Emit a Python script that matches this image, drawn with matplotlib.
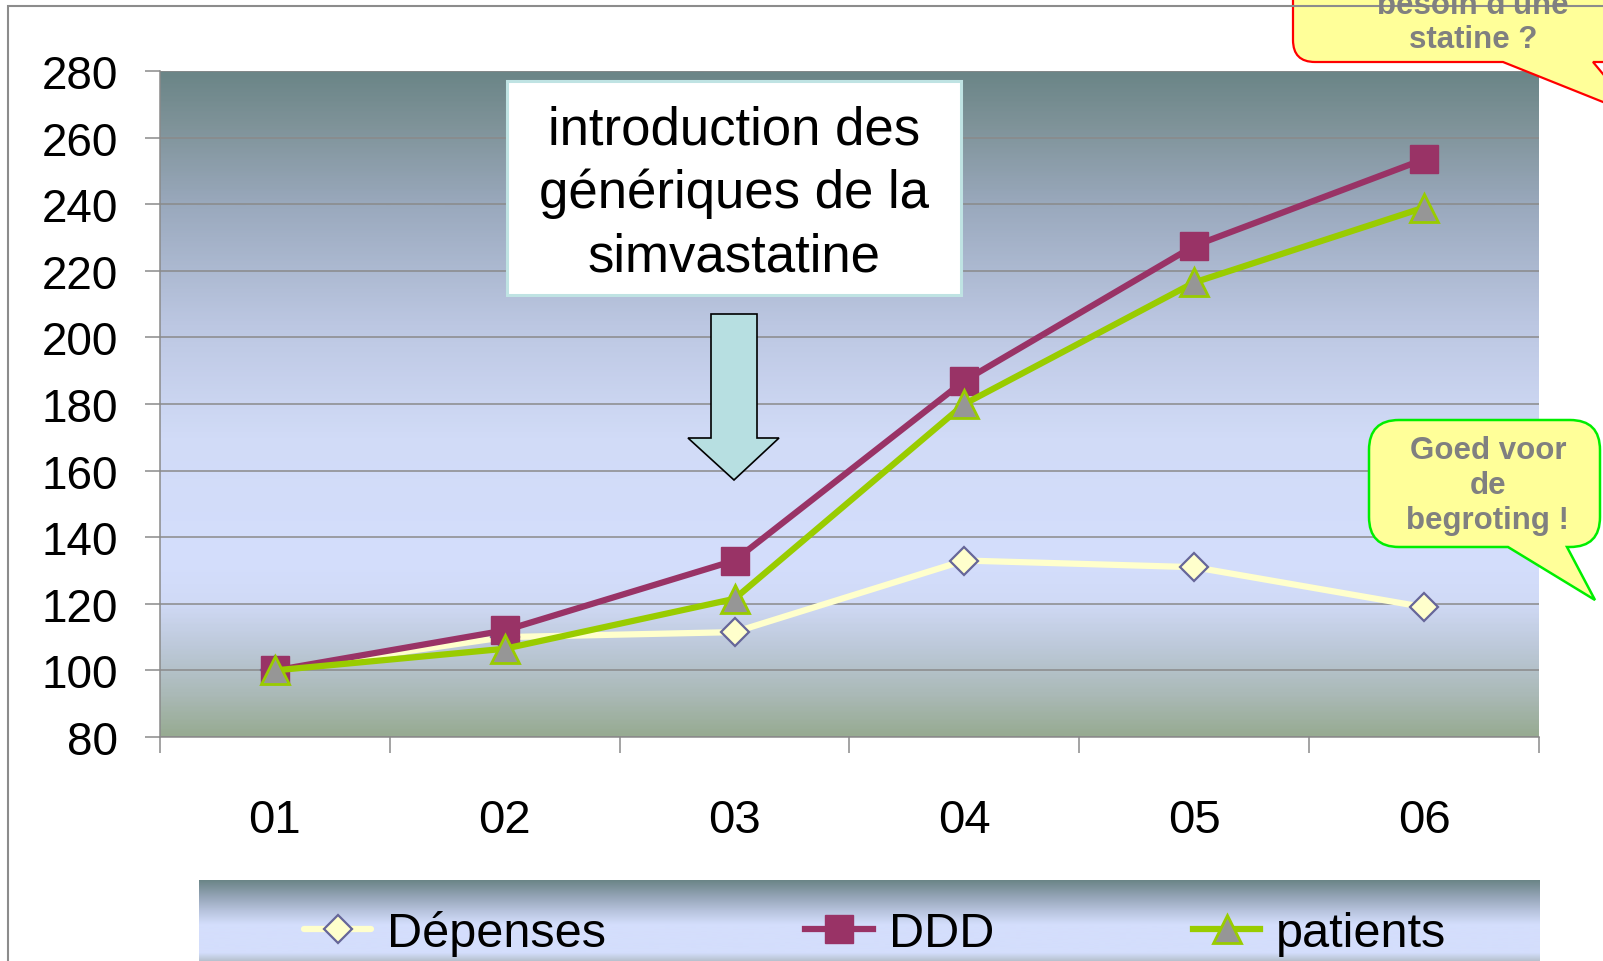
import matplotlib
matplotlib.use("Agg")
import matplotlib.pyplot as plt
import matplotlib.font_manager as fm
import numpy as np
from matplotlib.colors import LinearSegmentedColormap
from matplotlib.path import Path
from matplotlib.patches import PathPatch, Rectangle, Polygon

# ---- data -------------------------------------------------------------
years = ["01", "02", "03", "04", "05", "06"]
depenses = [100, 110, 111.5, 133, 131, 119]
ddd = [100, 112, 133, 187, 227.5, 253.5]
patients = [100, 106.5, 121.5, 180, 216.5, 239]
series_labels = ["Dépenses", "DDD", "patients"]
y_ticks = [80, 100, 120, 140, 160, 180, 200, 220, 240, 260, 280]

note_text = "introduction des\ngénériques de la\nsimvastatine"
bubble_top = "besoin d'une\nstatine ?"
bubble_right = "Goed voor\nde\nbegroting !"


def has_font(name):
    try:
        fm.findfont(fm.FontProperties(family=name), fallback_to_default=False)
        return True
    except Exception:
        return False


BASE = "Liberation Sans" if has_font("Liberation Sans") else "DejaVu Sans"
plt.rcParams["font.family"] = [BASE, "DejaVu Sans"]

W, H = 1603, 962
fig = plt.figure(figsize=(W / 100, H / 100), dpi=100)
fig.patch.set_facecolor("white")


def px_rect(x0, y0, x1, y1):
    """Figure-fraction rectangle from pixel box (top-left origin)."""
    return [x0 / W, 1 - y1 / H, (x1 - x0) / W, (y1 - y0) / H]


# plot area gradient
plot_box = px_rect(160, 72, 1539, 738)
plot_cmap = LinearSegmentedColormap.from_list(
    "plotbg",
    [(0.0, "#97ab92"), (0.06, "#aab9b6"), (0.13, "#bcc8d8"),
     (0.2, "#d0daf6"), (0.26, "#d4defc"), (0.45, "#d1dbf7"),
     (0.62, "#bcc7e2"), (0.8, "#9aa9bd"), (0.92, "#7f9399"),
     (1.0, "#6b8587")])
ax_bg = fig.add_axes(plot_box, zorder=0)
ax_bg.imshow(np.linspace(1, 0, 400).reshape(-1, 1), cmap=plot_cmap,
             aspect="auto", extent=[0, 1, 0, 1], vmin=0, vmax=1)
ax_bg.set_axis_off()

# legend strip gradient (runs off the bottom of the figure)
legend_box = px_rect(199, 881, 1539, 962)
leg_cmap = LinearSegmentedColormap.from_list(
    "legbg",
    [(0.0, "#b7c2cf"), (0.1, "#d4defc"), (0.45, "#d4defc"),
     (0.62, "#b7c3dd"), (0.8, "#94a4b6"), (1.0, "#6b8587")])
ax_lg = fig.add_axes(legend_box, zorder=0)
ax_lg.imshow(np.linspace(1, 0, 200).reshape(-1, 1), cmap=leg_cmap,
             aspect="auto", extent=[0, 1, 0, 1], vmin=0, vmax=1)
ax_lg.set_axis_off()

# ---- main chart -------------------------------------------------------
ax = fig.add_axes(plot_box, zorder=1)
ax.set_facecolor("none")
x = np.arange(len(years))

l1, = ax.plot(x, depenses, color="#ffffcc", lw=4.5, marker="D", ms=14.5,
              mfc="#ffffcc", mec="#666699", mew=1.6, solid_capstyle="round",
              zorder=3)
l2, = ax.plot(x, ddd, color="#993366", lw=4.5, marker="s", ms=20,
              mfc="#993366", mec="#993366", mew=1, zorder=4)
l3, = ax.plot(x, patients, color="#99cc00", lw=4.5, marker="^", ms=20,
              mfc="#969696", mec="#99cc00", mew=2, zorder=5)

ax.set_xlim(-0.5, len(years) - 0.5)
ax.set_ylim(y_ticks[0], y_ticks[-1])
ax.set_yticks(y_ticks)
ax.yaxis.grid(True, color="#8a8a8a", lw=1.1)
ax.set_axisbelow(True)

ax.set_xticks(x)
ax.set_xticklabels(years)
ax.set_xticks(np.arange(-0.5, len(years)), minor=True)
ax.tick_params(axis="x", which="major", length=0, pad=44, labelsize=34)
ax.tick_params(axis="x", which="minor", length=11.5, width=1.1,
               color="#8a8a8a", direction="out")
ax.tick_params(axis="y", which="major", length=11, width=1.1,
               color="#8a8a8a", direction="out", pad=19, labelsize=33)

for side in ("top", "right"):
    ax.spines[side].set_visible(False)
for side in ("left", "bottom"):
    ax.spines[side].set_color("#8a8a8a")
    ax.spines[side].set_linewidth(1.1)

# ---- legend -----------------------------------------------------------
leg = fig.legend([l1, l2, l3], series_labels, loc="center left",
                 bbox_to_anchor=(304 / W, 1 - 934 / H), ncol=3,
                 frameon=False, borderpad=0, borderaxespad=0,
                 handlelength=1.38, handletextpad=0.33, columnspacing=4.1,
                 prop=fm.FontProperties(family=BASE, size=35))
leg.set_zorder(3)

# ---- annotations layer (pixel coordinates) ---------------------------
ov = fig.add_axes([0, 0, 1, 1], zorder=5)
ov.set_xlim(0, W)
ov.set_ylim(H, 0)
ov.set_axis_off()
ov.patch.set_alpha(0)

# outer frame of the slide chart
ov.plot([8, 8, W + 5], [H + 5, 7, 7], color="#8c8c8c", lw=1.5,
        solid_joinstyle="miter", clip_on=False)

# text box with the note and the block arrow
ov.add_patch(Rectangle((507, 82), 454, 214, facecolor="white",
                       edgecolor="#bfe3e3", lw=2.2))
ov.text(734, 194, note_text, ha="center", va="center", fontsize=38,
        linespacing=1.33, color="black")
ov.add_patch(Polygon([(711, 315), (757, 315), (757, 439), (779, 439),
                      (734, 481), (688, 439), (711, 439)], closed=True,
                     facecolor="#b7dfe1", edgecolor="black", lw=1.2))


def callout(x0, y0, x1, y1, r, ta, tb, tip):
    verts = [(x0 + r, y0), (x1 - r, y0), (x1, y0), (x1, y0 + r),
             (x1, y1 - r), (x1, y1), (x1 - r, y1),
             (tb, y1), tip, (ta, y1),
             (x0 + r, y1), (x0, y1), (x0, y1 - r),
             (x0, y0 + r), (x0, y0), (x0 + r, y0), (x0 + r, y0)]
    codes = [Path.MOVETO, Path.LINETO, Path.CURVE3, Path.CURVE3,
             Path.LINETO, Path.CURVE3, Path.CURVE3,
             Path.LINETO, Path.LINETO, Path.LINETO,
             Path.LINETO, Path.CURVE3, Path.CURVE3,
             Path.LINETO, Path.CURVE3, Path.CURVE3, Path.CLOSEPOLY]
    return Path(verts, codes)


ov.add_patch(PathPatch(callout(1293, -90, 1680, 63, 22, 1503, 1593,
                               (1638, 117)),
                       facecolor="#ffff99", edgecolor="#ff0000", lw=1.6))
ov.text(1473, 23, bubble_top, ha="center", va="center", fontsize=22.5,
        fontweight="bold", color="#808080", linespacing=1.2)

ov.add_patch(PathPatch(callout(1369, 421, 1600, 548, 30, 1508, 1567,
                               (1595, 601)),
                       facecolor="#ffff99", edgecolor="#00ee00", lw=1.8))
ov.text(1488, 486, bubble_right, ha="center", va="center", fontsize=22.5,
        fontweight="bold", color="#808080", linespacing=1.22)

fig.savefig("out.png", dpi=100, facecolor="white")
